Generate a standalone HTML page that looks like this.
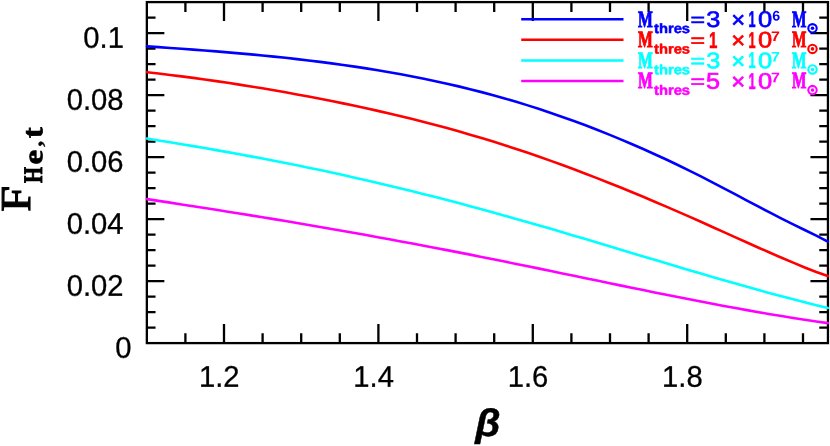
<!DOCTYPE html>
<html><head><meta charset="utf-8"><title>F_He,t vs beta</title>
<style>html,body{margin:0;padding:0;background:#fff;}body{width:830px;height:446px;overflow:hidden;font-family:"Liberation Sans",sans-serif;}</style>
</head><body>
<svg width="830" height="446" viewBox="0 0 830 446" style="display:block;will-change:transform">
<rect width="830" height="446" fill="#fff"/>
<g stroke="#000" stroke-width="2.3" fill="none">
<rect x="146.85" y="2.1" width="681.1" height="341.0"/>
<path d="M185.4,343.1v-9.8M185.4,2.1v9.8M224.0,343.1v-19.0M224.0,2.1v19.0M262.6,343.1v-9.8M262.6,2.1v9.8M301.2,343.1v-9.8M301.2,2.1v9.8M339.8,343.1v-9.8M339.8,2.1v9.8M378.4,343.1v-19.0M378.4,2.1v19.0M417.0,343.1v-9.8M417.0,2.1v9.8M455.6,343.1v-9.8M455.6,2.1v9.8M494.2,343.1v-9.8M494.2,2.1v9.8M532.8,343.1v-19.0M532.8,2.1v19.0M571.4,343.1v-9.8M571.4,2.1v9.8M610.0,343.1v-9.8M610.0,2.1v9.8M648.6,343.1v-9.8M648.6,2.1v9.8M687.2,343.1v-19.0M687.2,2.1v19.0M725.8,343.1v-9.8M725.8,2.1v9.8M764.4,343.1v-9.8M764.4,2.1v9.8M803.0,343.1v-9.8M803.0,2.1v9.8M146.85,327.7h8.7M827.95,327.7h-8.7M146.85,312.2h8.7M827.95,312.2h-8.7M146.85,296.7h8.7M827.95,296.7h-8.7M146.85,281.2h17.5M827.95,281.2h-17.5M146.85,265.7h8.7M827.95,265.7h-8.7M146.85,250.2h8.7M827.95,250.2h-8.7M146.85,234.7h8.7M827.95,234.7h-8.7M146.85,219.2h17.5M827.95,219.2h-17.5M146.85,203.7h8.7M827.95,203.7h-8.7M146.85,188.2h8.7M827.95,188.2h-8.7M146.85,172.7h8.7M827.95,172.7h-8.7M146.85,157.2h17.5M827.95,157.2h-17.5M146.85,141.7h8.7M827.95,141.7h-8.7M146.85,126.2h8.7M827.95,126.2h-8.7M146.85,110.7h8.7M827.95,110.7h-8.7M146.85,95.2h17.5M827.95,95.2h-17.5M146.85,79.7h8.7M827.95,79.7h-8.7M146.85,64.2h8.7M827.95,64.2h-8.7M146.85,48.7h8.7M827.95,48.7h-8.7M146.85,33.2h17.5M827.95,33.2h-17.5M146.85,17.7h8.7M827.95,17.7h-8.7"/>
</g>
<g fill="none" stroke-width="2.6" stroke-linejoin="round" stroke-linecap="round">
<path d="M147.0,46.36 L158.5,47.15 L170.1,47.95 L181.6,48.77 L193.2,49.62 L204.7,50.49 L216.2,51.40 L227.8,52.35 L239.3,53.34 L250.9,54.38 L262.4,55.47 L273.9,56.61 L285.5,57.82 L297.0,59.09 L308.5,60.44 L320.1,61.85 L331.6,63.35 L343.2,64.93 L354.7,66.60 L366.2,68.37 L377.8,70.23 L389.3,72.19 L400.9,74.26 L412.4,76.44 L423.9,78.74 L435.5,81.16 L447.0,83.70 L458.6,86.37 L470.1,89.18 L481.6,92.13 L493.2,95.22 L504.7,98.45 L516.2,101.84 L527.8,105.38 L539.3,109.07 L550.9,112.91 L562.4,116.90 L573.9,121.03 L585.5,125.32 L597.0,129.76 L608.6,134.35 L620.1,139.09 L631.6,143.97 L643.2,149.01 L654.7,154.20 L666.3,159.53 L677.8,165.01 L689.3,170.64 L700.9,176.42 L712.4,182.34 L723.9,188.37 L735.5,194.45 L747.0,200.56 L758.6,206.65 L770.1,212.68 L781.6,218.60 L793.2,224.38 L804.7,229.98 L816.3,235.57 L827.8,241.56" stroke="#0000ff"/>
<path d="M147.0,72.23 L158.5,73.54 L170.1,74.93 L181.6,76.38 L193.2,77.89 L204.7,79.47 L216.2,81.12 L227.8,82.83 L239.3,84.60 L250.9,86.44 L262.4,88.34 L273.9,90.30 L285.5,92.32 L297.0,94.41 L308.5,96.56 L320.1,98.76 L331.6,101.04 L343.2,103.38 L354.7,105.80 L366.2,108.29 L377.8,110.86 L389.3,113.51 L400.9,116.25 L412.4,119.07 L423.9,121.99 L435.5,125.00 L447.0,128.11 L458.6,131.32 L470.1,134.63 L481.6,138.05 L493.2,141.57 L504.7,145.22 L516.2,148.97 L527.8,152.84 L539.3,156.81 L550.9,160.89 L562.4,165.06 L573.9,169.33 L585.5,173.70 L597.0,178.16 L608.6,182.70 L620.1,187.33 L631.6,192.04 L643.2,196.82 L654.7,201.68 L666.3,206.60 L677.8,211.60 L689.3,216.65 L700.9,221.77 L712.4,226.94 L723.9,232.14 L735.5,237.35 L747.0,242.54 L758.6,247.69 L770.1,252.78 L781.6,257.78 L793.2,262.67 L804.7,267.43 L816.3,271.95 L827.8,276.07" stroke="#ff0000"/>
<path d="M147.0,138.59 L158.5,140.43 L170.1,142.29 L181.6,144.19 L193.2,146.13 L204.7,148.09 L216.2,150.10 L227.8,152.14 L239.3,154.22 L250.9,156.35 L262.4,158.52 L273.9,160.73 L285.5,163.00 L297.0,165.31 L308.5,167.68 L320.1,170.10 L331.6,172.57 L343.2,175.09 L354.7,177.67 L366.2,180.30 L377.8,182.97 L389.3,185.70 L400.9,188.48 L412.4,191.30 L423.9,194.18 L435.5,197.10 L447.0,200.07 L458.6,203.09 L470.1,206.16 L481.6,209.27 L493.2,212.43 L504.7,215.64 L516.2,218.89 L527.8,222.18 L539.3,225.51 L550.9,228.86 L562.4,232.25 L573.9,235.66 L585.5,239.09 L597.0,242.54 L608.6,245.99 L620.1,249.46 L631.6,252.93 L643.2,256.39 L654.7,259.85 L666.3,263.31 L677.8,266.75 L689.3,270.17 L700.9,273.57 L712.4,276.94 L723.9,280.29 L735.5,283.59 L747.0,286.85 L758.6,290.06 L770.1,293.22 L781.6,296.31 L793.2,299.34 L804.7,302.29 L816.3,305.17 L827.8,307.96" stroke="#00ffff"/>
<path d="M147.0,199.10 L158.5,200.86 L170.1,202.64 L181.6,204.42 L193.2,206.21 L204.7,208.02 L216.2,209.83 L227.8,211.67 L239.3,213.51 L250.9,215.37 L262.4,217.25 L273.9,219.15 L285.5,221.07 L297.0,223.00 L308.5,224.96 L320.1,226.94 L331.6,228.94 L343.2,230.97 L354.7,233.01 L366.2,235.08 L377.8,237.17 L389.3,239.28 L400.9,241.41 L412.4,243.56 L423.9,245.74 L435.5,247.93 L447.0,250.15 L458.6,252.39 L470.1,254.65 L481.6,256.93 L493.2,259.23 L504.7,261.55 L516.2,263.90 L527.8,266.26 L539.3,268.63 L550.9,271.02 L562.4,273.41 L573.9,275.80 L585.5,278.20 L597.0,280.60 L608.6,282.99 L620.1,285.37 L631.6,287.74 L643.2,290.10 L654.7,292.44 L666.3,294.76 L677.8,297.05 L689.3,299.32 L700.9,301.56 L712.4,303.77 L723.9,305.93 L735.5,308.06 L747.0,310.14 L758.6,312.18 L770.1,314.16 L781.6,316.08 L793.2,317.93 L804.7,319.72 L816.3,321.45 L827.8,323.09" stroke="#ff00ff"/>
</g>
<g font-family="Liberation Sans, sans-serif" font-size="100" fill="#000" stroke="#000" stroke-width="1.0">
<text transform="translate(115.25,357.7) rotate(0.03) scale(0.2920,0.2980)">0</text>
<text transform="translate(66.65,295.7) rotate(0.03) scale(0.2920,0.2980)">0.02</text>
<text transform="translate(66.65,233.7) rotate(0.03) scale(0.2920,0.2980)">0.04</text>
<text transform="translate(66.65,171.7) rotate(0.03) scale(0.2920,0.2980)">0.06</text>
<text transform="translate(66.65,109.7) rotate(0.03) scale(0.2920,0.2980)">0.08</text>
<text transform="translate(83.35,47.7) rotate(0.03) scale(0.2920,0.2980)">0.1</text>
<text transform="translate(198.9,386.7) rotate(0.03) scale(0.2920,0.2980)">1.2</text>
<text transform="translate(353.3,386.7) rotate(0.03) scale(0.2920,0.2980)">1.4</text>
<text transform="translate(507.7,386.7) rotate(0.03) scale(0.2920,0.2980)">1.6</text>
<text transform="translate(662.1,386.7) rotate(0.03) scale(0.2920,0.2980)">1.8</text>
</g>
<text transform="translate(475.17,436.11) rotate(0.03) scale(0.4057,0.3851)" font-family="Liberation Sans, sans-serif" font-weight="bold" font-style="italic" font-size="100" stroke="#000" stroke-width="0.5" vector-effect="non-scaling-stroke">β</text>
<g transform="translate(0,0) rotate(-90)">
<text transform="translate(-211.64,30.10) rotate(0.03) scale(0.4642,0.4261)" font-family="Liberation Serif, serif" font-weight="normal" font-style="normal" font-size="100" stroke="#000" stroke-width="1.2" stroke-linejoin="miter" vector-effect="non-scaling-stroke">F</text>
<text transform="translate(-182.95,42.30) rotate(0.03) scale(0.2056,0.2673)" font-family="Liberation Serif, serif" font-weight="bold" font-style="normal" font-size="100" stroke="#000" stroke-width="0.8" stroke-linejoin="miter" vector-effect="non-scaling-stroke">H</text>
<text transform="translate(-164.42,42.35) rotate(0.03) scale(0.3283,0.2690)" font-family="Liberation Serif, serif" font-weight="bold" font-style="normal" font-size="100" stroke="#000" stroke-width="0.8" stroke-linejoin="miter" vector-effect="non-scaling-stroke">e</text>
<text transform="translate(-146.81,41.67) rotate(0.03) scale(0.2365,0.2154)" font-family="Liberation Serif, serif" font-weight="bold" font-style="normal" font-size="100" stroke="#000" stroke-width="0.4" stroke-linejoin="miter" vector-effect="non-scaling-stroke">,</text>
<text transform="translate(-138.12,42.22) rotate(0.03) scale(0.3200,0.2863)" font-family="Liberation Serif, serif" font-weight="bold" font-style="normal" font-size="100" stroke="#000" stroke-width="0.8" stroke-linejoin="miter" vector-effect="non-scaling-stroke">t</text>
</g>
<path d="M521.2,19.25H623.5" stroke="#0000ff" stroke-width="2.5"/>
<g transform="translate(0,0.00)" fill="#0000ff" stroke="#0000ff" stroke-width="0">
<text transform="translate(637.93,26.60) rotate(0.03) scale(0.1570,0.2321)" font-family="Liberation Serif, serif" font-weight="bold" font-style="normal" font-size="100" stroke-width="0.8" vector-effect="non-scaling-stroke">M</text>
<text transform="translate(654.0,33.0) rotate(0.03) scale(0.136)" font-family="Liberation Sans, sans-serif" font-weight="bold" font-size="100" textLength="265" lengthAdjust="spacingAndGlyphs" stroke-width="3.7">thres</text>
<text transform="translate(690.58,26.03) rotate(0.03) scale(0.2491,0.1862)" font-family="Liberation Sans, sans-serif" font-weight="normal" font-style="normal" font-size="100" stroke-width="0.7" vector-effect="non-scaling-stroke">=</text>
<text transform="translate(706.14,26.98) rotate(0.03) scale(0.2531,0.2260)" font-family="Liberation Sans, sans-serif" font-weight="normal" font-style="normal" font-size="100" stroke-width="0.7" vector-effect="non-scaling-stroke">3</text>
<text transform="translate(731.25,27.51) rotate(0.03) scale(0.2378,0.2286)" font-family="Liberation Sans, sans-serif" font-weight="normal" font-style="normal" font-size="100" stroke-width="0.7" vector-effect="non-scaling-stroke">×</text>
<text transform="translate(748.40,26.90) rotate(0.03) scale(0.1268,0.2267)" font-family="Liberation Sans, sans-serif" font-weight="bold" font-style="normal" font-size="100" stroke-width="0.5" vector-effect="non-scaling-stroke">1</text>
<text transform="translate(758.00,26.98) rotate(0.03) scale(0.2552,0.2260)" font-family="Liberation Sans, sans-serif" font-weight="normal" font-style="normal" font-size="100" stroke-width="0.7" vector-effect="non-scaling-stroke">0</text>
<text transform="translate(772.28,20.56) rotate(0.03) scale(0.1427,0.1384)" font-family="Liberation Sans, sans-serif" font-weight="bold" font-style="normal" font-size="100">6</text>
<text transform="translate(792.04,26.60) rotate(0.03) scale(0.1526,0.2321)" font-family="Liberation Serif, serif" font-weight="bold" font-style="normal" font-size="100" stroke-width="0.8" vector-effect="non-scaling-stroke">M</text>
<circle cx="812.5" cy="28.3" r="4.2" fill="none" stroke-width="2.1"/>
<circle cx="812.5" cy="28.3" r="1.8"/>
</g>
<path d="M521.2,39.85H623.5" stroke="#ff0000" stroke-width="2.5"/>
<g transform="translate(0,20.60)" fill="#ff0000" stroke="#ff0000" stroke-width="0">
<text transform="translate(637.93,26.60) rotate(0.03) scale(0.1570,0.2321)" font-family="Liberation Serif, serif" font-weight="bold" font-style="normal" font-size="100" stroke-width="0.8" vector-effect="non-scaling-stroke">M</text>
<text transform="translate(654.0,33.0) rotate(0.03) scale(0.136)" font-family="Liberation Sans, sans-serif" font-weight="bold" font-size="100" textLength="265" lengthAdjust="spacingAndGlyphs" stroke-width="3.7">thres</text>
<text transform="translate(690.58,26.03) rotate(0.03) scale(0.2491,0.1862)" font-family="Liberation Sans, sans-serif" font-weight="normal" font-style="normal" font-size="100" stroke-width="0.7" vector-effect="non-scaling-stroke">=</text>
<text transform="translate(708.95,26.90) rotate(0.03) scale(0.1504,0.2267)" font-family="Liberation Sans, sans-serif" font-weight="bold" font-style="normal" font-size="100" stroke-width="0.5" vector-effect="non-scaling-stroke">1</text>
<text transform="translate(731.25,27.51) rotate(0.03) scale(0.2378,0.2286)" font-family="Liberation Sans, sans-serif" font-weight="normal" font-style="normal" font-size="100" stroke-width="0.7" vector-effect="non-scaling-stroke">×</text>
<text transform="translate(748.40,26.90) rotate(0.03) scale(0.1268,0.2267)" font-family="Liberation Sans, sans-serif" font-weight="bold" font-style="normal" font-size="100" stroke-width="0.5" vector-effect="non-scaling-stroke">1</text>
<text transform="translate(758.00,26.98) rotate(0.03) scale(0.2552,0.2260)" font-family="Liberation Sans, sans-serif" font-weight="normal" font-style="normal" font-size="100" stroke-width="0.7" vector-effect="non-scaling-stroke">0</text>
<text transform="translate(771.11,20.40) rotate(0.03) scale(0.1598,0.1381)" font-family="Liberation Sans, sans-serif" font-weight="bold" font-style="normal" font-size="100">7</text>
<text transform="translate(792.04,26.60) rotate(0.03) scale(0.1526,0.2321)" font-family="Liberation Serif, serif" font-weight="bold" font-style="normal" font-size="100" stroke-width="0.8" vector-effect="non-scaling-stroke">M</text>
<circle cx="812.5" cy="28.3" r="4.2" fill="none" stroke-width="2.1"/>
<circle cx="812.5" cy="28.3" r="1.8"/>
</g>
<path d="M521.2,60.45H623.5" stroke="#00ffff" stroke-width="2.5"/>
<g transform="translate(0,41.20)" fill="#00ffff" stroke="#00ffff" stroke-width="0">
<text transform="translate(637.93,26.60) rotate(0.03) scale(0.1570,0.2321)" font-family="Liberation Serif, serif" font-weight="bold" font-style="normal" font-size="100" stroke-width="0.8" vector-effect="non-scaling-stroke">M</text>
<text transform="translate(654.0,33.0) rotate(0.03) scale(0.136)" font-family="Liberation Sans, sans-serif" font-weight="bold" font-size="100" textLength="265" lengthAdjust="spacingAndGlyphs" stroke-width="3.7">thres</text>
<text transform="translate(690.58,26.03) rotate(0.03) scale(0.2491,0.1862)" font-family="Liberation Sans, sans-serif" font-weight="normal" font-style="normal" font-size="100" stroke-width="0.7" vector-effect="non-scaling-stroke">=</text>
<text transform="translate(706.14,26.98) rotate(0.03) scale(0.2531,0.2260)" font-family="Liberation Sans, sans-serif" font-weight="normal" font-style="normal" font-size="100" stroke-width="0.7" vector-effect="non-scaling-stroke">3</text>
<text transform="translate(731.25,27.51) rotate(0.03) scale(0.2378,0.2286)" font-family="Liberation Sans, sans-serif" font-weight="normal" font-style="normal" font-size="100" stroke-width="0.7" vector-effect="non-scaling-stroke">×</text>
<text transform="translate(748.40,26.90) rotate(0.03) scale(0.1268,0.2267)" font-family="Liberation Sans, sans-serif" font-weight="bold" font-style="normal" font-size="100" stroke-width="0.5" vector-effect="non-scaling-stroke">1</text>
<text transform="translate(758.00,26.98) rotate(0.03) scale(0.2552,0.2260)" font-family="Liberation Sans, sans-serif" font-weight="normal" font-style="normal" font-size="100" stroke-width="0.7" vector-effect="non-scaling-stroke">0</text>
<text transform="translate(771.11,20.40) rotate(0.03) scale(0.1598,0.1381)" font-family="Liberation Sans, sans-serif" font-weight="bold" font-style="normal" font-size="100">7</text>
<text transform="translate(792.04,26.60) rotate(0.03) scale(0.1526,0.2321)" font-family="Liberation Serif, serif" font-weight="bold" font-style="normal" font-size="100" stroke-width="0.8" vector-effect="non-scaling-stroke">M</text>
<circle cx="812.5" cy="28.3" r="4.2" fill="none" stroke-width="2.1"/>
<circle cx="812.5" cy="28.3" r="1.8"/>
</g>
<path d="M521.2,81.05H623.5" stroke="#ff00ff" stroke-width="2.5"/>
<g transform="translate(0,61.80)" fill="#ff00ff" stroke="#ff00ff" stroke-width="0">
<text transform="translate(637.93,26.60) rotate(0.03) scale(0.1570,0.2321)" font-family="Liberation Serif, serif" font-weight="bold" font-style="normal" font-size="100" stroke-width="0.8" vector-effect="non-scaling-stroke">M</text>
<text transform="translate(654.0,33.0) rotate(0.03) scale(0.136)" font-family="Liberation Sans, sans-serif" font-weight="bold" font-size="100" textLength="265" lengthAdjust="spacingAndGlyphs" stroke-width="3.7">thres</text>
<text transform="translate(690.58,26.03) rotate(0.03) scale(0.2491,0.1862)" font-family="Liberation Sans, sans-serif" font-weight="normal" font-style="normal" font-size="100" stroke-width="0.7" vector-effect="non-scaling-stroke">=</text>
<text transform="translate(706.09,26.98) rotate(0.03) scale(0.2531,0.2293)" font-family="Liberation Sans, sans-serif" font-weight="normal" font-style="normal" font-size="100" stroke-width="0.7" vector-effect="non-scaling-stroke">5</text>
<text transform="translate(731.25,27.51) rotate(0.03) scale(0.2378,0.2286)" font-family="Liberation Sans, sans-serif" font-weight="normal" font-style="normal" font-size="100" stroke-width="0.7" vector-effect="non-scaling-stroke">×</text>
<text transform="translate(748.40,26.90) rotate(0.03) scale(0.1268,0.2267)" font-family="Liberation Sans, sans-serif" font-weight="bold" font-style="normal" font-size="100" stroke-width="0.5" vector-effect="non-scaling-stroke">1</text>
<text transform="translate(758.00,26.98) rotate(0.03) scale(0.2552,0.2260)" font-family="Liberation Sans, sans-serif" font-weight="normal" font-style="normal" font-size="100" stroke-width="0.7" vector-effect="non-scaling-stroke">0</text>
<text transform="translate(771.11,20.40) rotate(0.03) scale(0.1598,0.1381)" font-family="Liberation Sans, sans-serif" font-weight="bold" font-style="normal" font-size="100">7</text>
<text transform="translate(792.04,26.60) rotate(0.03) scale(0.1526,0.2321)" font-family="Liberation Serif, serif" font-weight="bold" font-style="normal" font-size="100" stroke-width="0.8" vector-effect="non-scaling-stroke">M</text>
<circle cx="812.5" cy="28.3" r="4.2" fill="none" stroke-width="2.1"/>
<circle cx="812.5" cy="28.3" r="1.8"/>
</g>
</svg>
</body></html>
